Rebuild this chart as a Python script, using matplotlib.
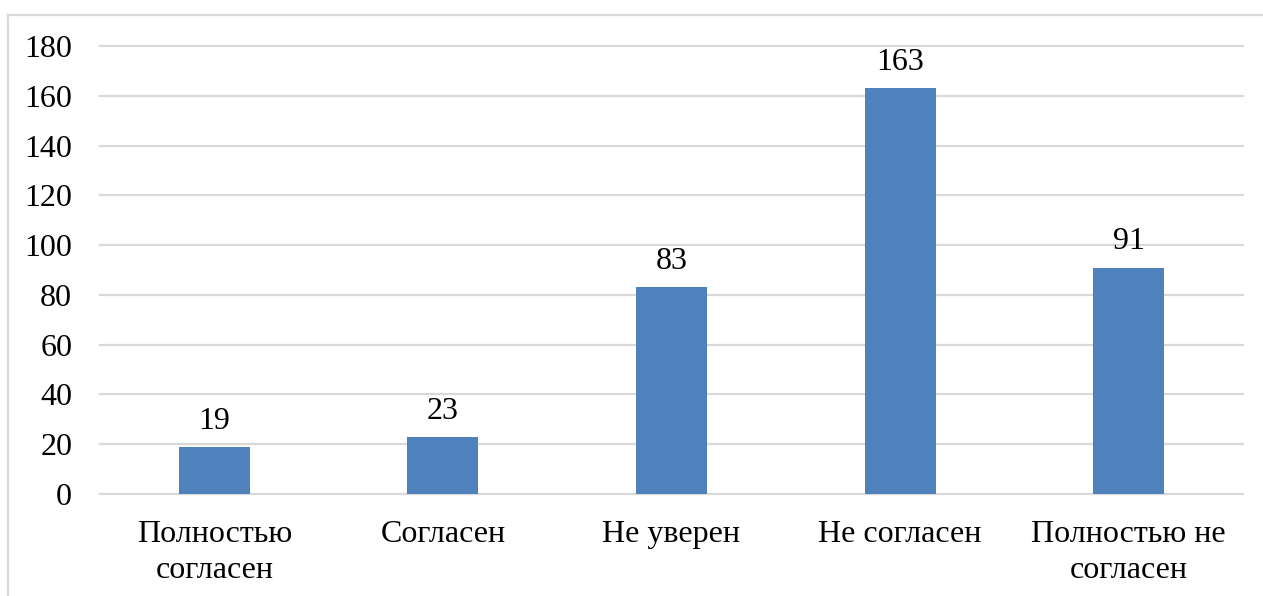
import numpy as np
import matplotlib
matplotlib.use("Agg")
from matplotlib import pyplot as plt
from matplotlib.lines import Line2D

categories = ["Полностью\nсогласен", "Согласен", "Не уверен", "Не согласен", "Полностью не\nсогласен"]
counts = [19, 23, 83, 163, 91]
yticks = [0, 20, 40, 60, 80, 100, 120, 140, 160, 180]

plt.rcParams['font.family'] = ['Liberation Serif', 'DejaVu Serif']

W, H = 1263, 596
fig = plt.figure(figsize=(W / 100, H / 100), dpi=100)
ax = fig.add_axes([100 / W, 1 - 494 / H, (1243 - 100) / W, (494 - 46) / H])

x = np.arange(len(categories))
ax.bar(x, counts, width=0.31, color="#4F81BD", zorder=3)
for xi, v in zip(x, counts):
    ax.text(xi, v + 4.5, str(v), ha="center", va="bottom", fontsize=23, color="#000000")

ax.set_xlim(-0.5, len(categories) - 0.5)
ax.set_ylim(0, 180)
ax.set_yticks(yticks)
ax.set_yticklabels([str(t) for t in yticks], fontsize=23)
ax.set_xticks(x)
ax.set_xticklabels(categories, fontsize=23, linespacing=1.3)
ax.tick_params(axis="both", length=0)
ax.tick_params(axis="y", pad=20)
ax.tick_params(axis="x", pad=19)
ax.grid(axis="y", color="#D9D9D9", linewidth=1.6, zorder=0)
for gl in ax.get_ygridlines():
    gl.set_clip_on(False)
for s in ax.spines.values():
    s.set_visible(False)

# outer chart frame (left and top edges visible)
fig.add_artist(Line2D([8 / W, 8 / W], [0, 1 - 15 / H], transform=fig.transFigure, color="#D9D9D9", lw=1.6))
fig.add_artist(Line2D([8 / W, 1], [1 - 15 / H, 1 - 15 / H], transform=fig.transFigure, color="#D9D9D9", lw=1.6))

fig.savefig("out.png", dpi=100)
